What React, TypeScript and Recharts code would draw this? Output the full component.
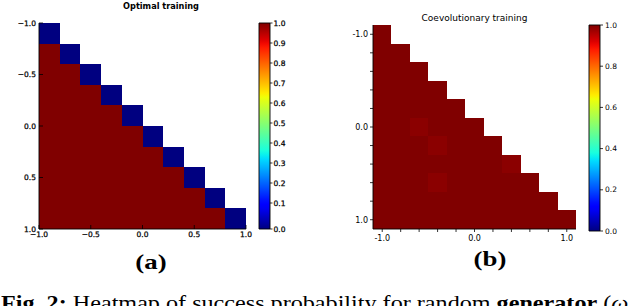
import React from 'react';
import { ScatterChart, Scatter, XAxis, YAxis, ReferenceArea } from 'recharts';

// cell centres on both axes (matplotlib pcolor grids)
const OPT_CENTERS = [-0.9, -0.7, -0.5, -0.3, -0.1, 0.1, 0.3, 0.5, 0.7, 0.9];
const OPT_TICKS = [-1.0, -0.5, 0.0, 0.5, 1.0];
const COEV_CENTERS = [-1.0, -0.8, -0.6, -0.4, -0.2, 0.0, 0.2, 0.4, 0.6, 0.8, 1.0];
const COEV_LABELED = [-1.0, 0.0, 1.0];

const _ = null;
// success probability, row = y cell, col = x cell (null = not evaluated)
const OPT_VALUES: (number | null)[][] = [
  [0, _, _, _, _, _, _, _, _, _],
  [1, 0, _, _, _, _, _, _, _, _],
  [1, 1, 0, _, _, _, _, _, _, _],
  [1, 1, 1, 0, _, _, _, _, _, _],
  [1, 1, 1, 1, 0, _, _, _, _, _],
  [1, 1, 1, 1, 1, 0, _, _, _, _],
  [1, 1, 1, 1, 1, 1, 0, _, _, _],
  [1, 1, 1, 1, 1, 1, 1, 0, _, _],
  [1, 1, 1, 1, 1, 1, 1, 1, 0, _],
  [1, 1, 1, 1, 1, 1, 1, 1, 1, 0],
];
const COEV_VALUES: (number | null)[][] = [
  [1, _, _, _, _, _, _, _, _, _, _],
  [1, 1, _, _, _, _, _, _, _, _, _],
  [1, 1, 1, _, _, _, _, _, _, _, _],
  [1, 1, 1, 1, _, _, _, _, _, _, _],
  [1, 1, 1, 1, 1, _, _, _, _, _, _],
  [1, 1, 0.99, 1, 1, 1, _, _, _, _, _],
  [1, 1, 1, 0.99, 1, 1, 1, _, _, _, _],
  [1, 1, 1, 1, 1, 1, 1, 0.99, _, _, _],
  [1, 1, 1, 0.99, 1, 1, 1, 1, 1, _, _],
  [1, 1, 1, 1, 1, 1, 1, 1, 1, 1, _],
  [1, 1, 1, 1, 1, 1, 1, 1, 1, 1, 1],
];

const BAR_A_TICKS = [-0.03, 0.1, 0.2, 0.3, 0.4, 0.5, 0.6, 0.7, 0.8, 0.9, 1.0];
const BAR_B_TICKS = [0.0, 0.2, 0.4, 0.6, 0.8, 1.0];

// matplotlib "jet"
const JET_R: [number, number][] = [[0, 0], [0.35, 0], [0.66, 1], [0.89, 1], [1, 0.5]];
const JET_G: [number, number][] = [[0, 0], [0.125, 0], [0.375, 1], [0.64, 1], [0.91, 0], [1, 0]];
const JET_B: [number, number][] = [[0, 0.5], [0.11, 1], [0.34, 1], [0.65, 0], [1, 0]];

function seg(v: number, pts: [number, number][]) {
  for (let i = 1; i < pts.length; i++) {
    if (v <= pts[i][0]) {
      const [x0, y0] = pts[i - 1];
      const [x1, y1] = pts[i];
      return y0 + ((v - x0) / (x1 - x0)) * (y1 - y0);
    }
  }
  return pts[pts.length - 1][1];
}
function jet(v: number) {
  const c = (n: number) => Math.round(n * 255).toString(16).padStart(2, '0');
  return `#${c(seg(v, JET_R))}${c(seg(v, JET_G))}${c(seg(v, JET_B))}`;
}
const GRAD_STEPS = Array.from({ length: 51 }, (_, i) => i / 50);

const DEJAVU = '"DejaVu Sans", sans-serif';

type TickCfg = {
  side: 'bottom' | 'top' | 'left' | 'right';
  len: number; // positive = outward
  gap?: number;
  size?: number;
  heavy?: boolean;
  fmt?: (v: number) => string;
};

const tick = (cfg: TickCfg) => (props: any) => {
  const { x, y, payload } = props;
  const v = payload.value as number;
  const label = cfg.fmt ? cfg.fmt(v) : '';
  const gap = cfg.gap ?? 0;
  const textProps = {
    fontSize: cfg.size,
    fontFamily: DEJAVU,
    fill: '#000',
    stroke: cfg.heavy ? '#000' : 'none',
    strokeWidth: cfg.heavy ? 0.25 : 0,
    dy: '0.35em',
  };
  let line;
  let text = null;
  if (cfg.side === 'bottom' || cfg.side === 'top') {
    const s = cfg.side === 'bottom' ? 1 : -1;
    line = <line x1={x} y1={y} x2={x} y2={y + s * cfg.len} stroke="#000" strokeWidth={0.8} />;
    if (label)
      text = (
        <text x={x} y={y + s * gap} textAnchor="middle" {...textProps}>
          {label}
        </text>
      );
  } else {
    const s = cfg.side === 'right' ? 1 : -1;
    line = <line x1={x} y1={y} x2={x + s * cfg.len} y2={y} stroke="#000" strokeWidth={0.8} />;
    if (label)
      text = (
        <text x={x + s * gap} y={y} textAnchor={s > 0 ? 'start' : 'end'} {...textProps}>
          {label}
        </text>
      );
  }
  return (
    <g>
      {line}
      {text}
    </g>
  );
};

const oldFmt = (v: number) => (v < 0 ? '\u2212' : '') + Math.abs(v).toFixed(1);
const coevFmt = (v: number) => (COEV_LABELED.includes(v) ? v.toFixed(1) : '');

function centerPoints(centers: number[]) {
  return centers.map((c) => ({ x: c, y: c }));
}

function cells(values: (number | null)[][], centers: number[], half: number) {
  const out: React.ReactNode[] = [];
  values.forEach((row, i) =>
    row.forEach((v, j) => {
      if (v === null) return;
      out.push(
        <ReferenceArea
          key={`${i}-${j}`}
          x1={centers[j] - half}
          x2={centers[j] + half}
          y1={centers[i] - half}
          y2={centers[i] + half}
          fill={jet(v)}
          fillOpacity={1}
          stroke="none"
          shapeRendering="crispEdges"
          ifOverflow="visible"
        />,
      );
    }),
  );
  return out;
}

const axisLine = { stroke: '#000', strokeWidth: 0.9 };
const noMark = () => <g />;

function OptimalPanel() {
  return (
    <ScatterChart width={260} height={250} margin={{ top: 23, right: 14, bottom: 0, left: 0 }}>
      <XAxis type="number" dataKey="x" domain={[-1, 1]} ticks={OPT_TICKS} height={21} tickSize={0} tickMargin={0}
        axisLine={axisLine} tickLine={false} tick={tick({ side: 'bottom', len: -4, gap: 5, size: 7.5, heavy: true, fmt: oldFmt })} interval={0} />
      <XAxis xAxisId="top" orientation="top" type="number" dataKey="x" domain={[-1, 1]} ticks={OPT_TICKS} height={0} tickSize={0} tickMargin={0}
        axisLine={axisLine} tickLine={false} tick={tick({ side: 'top', len: -4 })} interval={0} />
      <YAxis type="number" dataKey="y" domain={[-1, 1]} reversed ticks={OPT_TICKS} width={39} tickSize={0} tickMargin={0}
        axisLine={axisLine} tickLine={false} tick={tick({ side: 'left', len: -4, gap: 3, size: 7.5, heavy: true, fmt: oldFmt })} interval={0} />
      <YAxis yAxisId="right" orientation="right" type="number" dataKey="y" domain={[-1, 1]} reversed ticks={OPT_TICKS} width={0} tickSize={0} tickMargin={0}
        axisLine={axisLine} tickLine={false} tick={tick({ side: 'right', len: -4 })} interval={0} />
      {cells(OPT_VALUES, OPT_CENTERS, 0.1)}
      <Scatter data={centerPoints(OPT_CENTERS)} shape={noMark} isAnimationActive={false} />
      <Scatter data={centerPoints(OPT_CENTERS)} xAxisId="top" yAxisId="right" shape={noMark} isAnimationActive={false} />
    </ScatterChart>
  );
}

function CoevPanel() {
  return (
    <ScatterChart width={270} height={250} margin={{ top: 25, right: 14, bottom: 0, left: 0 }}>
      <XAxis type="number" dataKey="x" domain={[-1.1, 1.1]} ticks={COEV_CENTERS} height={21} tickSize={0} tickMargin={0}
        axisLine={axisLine} tickLine={false} tick={tick({ side: 'bottom', len: 3, gap: 9, size: 8, fmt: coevFmt })} interval={0} />
      <XAxis xAxisId="top" orientation="top" type="number" dataKey="x" domain={[-1.1, 1.1]} height={0} axisLine={axisLine} tick={false} tickLine={false} />
      <YAxis type="number" dataKey="y" domain={[-1.1, 1.1]} reversed ticks={COEV_CENTERS} width={53} tickSize={0} tickMargin={0}
        axisLine={axisLine} tickLine={false} tick={tick({ side: 'left', len: 3, gap: 5, size: 8, fmt: coevFmt })} interval={0} />
      <YAxis yAxisId="right" orientation="right" type="number" dataKey="y" domain={[-1.1, 1.1]} width={0} axisLine={axisLine} tick={false} tickLine={false} />
      {cells(COEV_VALUES, COEV_CENTERS, 0.1)}
      <Scatter data={centerPoints(COEV_CENTERS)} shape={noMark} isAnimationActive={false} />
      <Scatter data={centerPoints(COEV_CENTERS)} xAxisId="top" yAxisId="right" shape={noMark} isAnimationActive={false} />
    </ScatterChart>
  );
}

function ColorBar({ ticks, min, width, height, top, tickLen, gap, size, heavy }: {
  ticks: number[]; min: number; width: number; height: number; top: number; tickLen: number; gap: number; size: number; heavy?: boolean;
}) {
  const ends = [{ x: 0, y: min }, { x: 1, y: 1 }];
  return (
    <ScatterChart width={width} height={height} margin={{ top, right: 0, bottom: height - top - 206, left: 9 }}>
      <XAxis type="number" dataKey="x" domain={[0, 1]} hide />
      <YAxis type="number" dataKey="y" orientation="right" domain={[min, 1]} ticks={ticks} width={width - 20} tickSize={0} tickMargin={0}
        axisLine={false} tickLine={false} interval={0}
        tick={tick({ side: 'right', len: tickLen, gap, size, heavy, fmt: (v) => Math.max(0, v).toFixed(1) })} />
      <ReferenceArea x1={0} x2={1} y1={min} y2={1} fill="url(#jetGrad)" fillOpacity={1} stroke="#000" strokeWidth={0.9} ifOverflow="visible" />
      <Scatter data={ends} shape={noMark} isAnimationActive={false} />
    </ScatterChart>
  );
}

const abs = (left: number, top: number): React.CSSProperties => ({ position: 'absolute', left, top });

export default function App() {
  return (
    <div style={{ position: 'absolute', left: 0, top: 0, width: 640, height: 306, overflow: 'hidden', background: '#fff' }}>
      <svg width={0} height={0} style={{ position: 'absolute' }}>
        <defs>
          <linearGradient id="jetGrad" x1="0" y1="1" x2="0" y2="0">
            {GRAD_STEPS.map((s) => (
              <stop key={s} offset={s} stopColor={jet(s)} />
            ))}
          </linearGradient>
        </defs>
      </svg>

      <div style={{ ...abs(0, 0), width: 322, textAlign: 'center', font: `bold 8.2px ${DEJAVU}`, lineHeight: '12px' }}>
        Optimal training
      </div>
      <div style={abs(0, 0)}>
        <OptimalPanel />
      </div>
      <div style={abs(250, 0)}>
        <ColorBar ticks={BAR_A_TICKS} min={-0.03} width={50} height={250} top={23} tickLen={2.5} gap={3.5} size={7.5} heavy />
      </div>

      <div style={{ ...abs(373, 12), width: 203, textAlign: 'center', font: `9px ${DEJAVU}`, lineHeight: '12px' }}>
        Coevolutionary training
      </div>
      <div style={abs(320, 0)}>
        <CoevPanel />
      </div>
      <div style={abs(580, 0)}>
        <ColorBar ticks={BAR_B_TICKS} min={0} width={61} height={250} top={25} tickLen={3} gap={5} size={7.5} />
      </div>

      <div style={{ ...abs(111, 249), width: 80, textAlign: 'center', font: 'bold 22px "Liberation Serif", serif', lineHeight: '26px', transform: 'scaleX(1.22)' }}>
        (a)
      </div>
      <div style={{ ...abs(450, 246), width: 80, textAlign: 'center', font: 'bold 22px "Liberation Serif", serif', lineHeight: '26px', transform: 'scaleX(1.22)' }}>
        (b)
      </div>
      <div style={{ ...abs(1, 293), whiteSpace: 'nowrap', font: '21px "Liberation Serif", serif', lineHeight: '21px', transform: 'scaleX(1.15)', transformOrigin: 'left top' }}>
        <b>Fig. 2:</b> Heatmap of success probability for random <b>generator</b> (<i>ω</i>
      </div>
    </div>
  );
}
